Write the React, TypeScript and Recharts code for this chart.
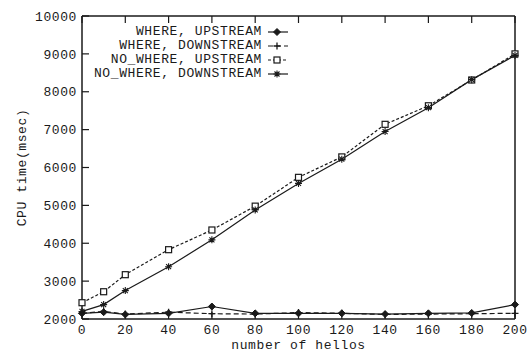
import * as React from "react";
import { LineChart, Line, XAxis, YAxis, Legend } from "recharts";

// CPU time vs. number of hellos, gnuplot-style black & white plot.
const hellos = [0, 10, 20, 40, 60, 80, 100, 120, 140, 160, 180, 200];
const whereUp = [2150, 2180, 2120, 2150, 2330, 2150, 2150, 2150, 2130, 2150, 2160, 2380];
const whereDown = [2150, 2200, 2130, 2180, 2140, 2130, 2170, 2150, 2120, 2130, 2140, 2150];
const noWhereUp = [2430, 2720, 3170, 3830, 4350, 4980, 5740, 6280, 7140, 7630, 8310, 9000];
const noWhereDown = [2200, 2380, 2750, 3380, 4090, 4880, 5580, 6220, 6950, 7580, 8320, 8960];

const xTicks = [0, 20, 40, 60, 80, 100, 120, 140, 160, 180, 200];
const yTicks = [2000, 3000, 4000, 5000, 6000, 7000, 8000, 9000, 10000];

const data = hellos.map((h, i) => ({
  h,
  whereUp: whereUp[i],
  whereDown: whereDown[i],
  noWhereUp: noWhereUp[i],
  noWhereDown: noWhereDown[i],
}));

type Kind = "diamond" | "plus" | "square" | "star";

const series: { key: string; name: string; kind: Kind; dash?: string }[] = [
  { key: "whereUp", name: "WHERE, UPSTREAM", kind: "diamond" },
  { key: "whereDown", name: "WHERE, DOWNSTREAM", kind: "plus", dash: "5 3" },
  { key: "noWhereUp", name: "NO_WHERE, UPSTREAM", kind: "square", dash: "3 2" },
  { key: "noWhereDown", name: "NO_WHERE, DOWNSTREAM", kind: "star" },
];

const INK = "#1a1a1a";
const FONT = "'Liberation Mono', 'DejaVu Sans Mono', monospace";
const FS = 13;
const LS = 0.6;
const TICK = 7;
// frame edges (fixed by the chart margins below)
const PLOT = { left: 82, right: 515, top: 16, bottom: 319 };

function Marker({ kind, cx, cy }: { kind: Kind; cx: number; cy: number }) {
  if (cx == null || cy == null) return null;
  const s = 3.5;
  switch (kind) {
    case "diamond":
      return <polygon points={`${cx},${cy - s} ${cx + s},${cy} ${cx},${cy + s} ${cx - s},${cy}`} fill={INK} stroke={INK} />;
    case "plus":
      return <path d={`M${cx - s} ${cy}h${2 * s}M${cx} ${cy - s}v${2 * s}`} stroke={INK} strokeWidth={1.3} />;
    case "square":
      return <rect x={cx - 3} y={cy - 3} width={6} height={6} fill="#fff" stroke={INK} strokeWidth={1.2} />;
    default:
      return (
        <path
          d={`M${cx - s} ${cy}h${2 * s}M${cx} ${cy - s}v${2 * s}M${cx - 2.5} ${cy - 2.5}l5 5M${cx - 2.5} ${cy + 2.5}l5 -5`}
          stroke={INK}
          strokeWidth={1.1}
        />
      );
  }
}

// inward gnuplot ticks
const BottomTick = (p: any) => (
  <g>
    <line x1={p.x} x2={p.x} y1={PLOT.bottom} y2={PLOT.bottom - TICK} stroke={INK} strokeWidth={1.2} />
    <text x={p.x} y={329} dy="0.36em" textAnchor="middle" fill={INK} fontSize={FS} letterSpacing={LS} fontFamily={FONT}>
      {p.payload.value}
    </text>
  </g>
);
const LeftTick = (p: any) => (
  <g>
    <line x1={PLOT.left} x2={PLOT.left + TICK} y1={p.y} y2={p.y} stroke={INK} strokeWidth={1.2} />
    <text x={77} y={p.y} dy="0.36em" textAnchor="end" fill={INK} fontSize={FS} letterSpacing={LS} fontFamily={FONT}>
      {p.payload.value}
    </text>
  </g>
);
const TopTick = (p: any) => <line x1={p.x} x2={p.x} y1={PLOT.top} y2={PLOT.top + TICK} stroke={INK} strokeWidth={1.2} />;
const RightTick = (p: any) => <line x1={PLOT.right} x2={PLOT.right - TICK} y1={p.y} y2={p.y} stroke={INK} strokeWidth={1.2} />;

function LegendBox() {
  return (
    <div style={{ fontFamily: FONT, fontSize: FS, letterSpacing: LS, color: INK }}>
      {series.map((s) => (
        <div key={s.key} style={{ display: "flex", justifyContent: "flex-end", alignItems: "center", height: 14, lineHeight: "14px" }}>
          <span style={{ whiteSpace: "pre" }}>{s.name}</span>
          <svg width={24} height={14} style={{ marginLeft: 4 }}>
            <line x1={2} x2={22} y1={7} y2={7} stroke={INK} strokeWidth={1.2} strokeDasharray={s.dash} />
            <Marker kind={s.kind} cx={11} cy={7} />
          </svg>
        </div>
      ))}
    </div>
  );
}

export default function App() {
  return (
    <div style={{ position: "fixed", left: 0, top: 0, width: 530, height: 352, background: "#fff" }}>
      <LineChart width={530} height={352} data={data} margin={{ top: 15, right: 14, bottom: 0, left: 0 }}>
        <XAxis
          xAxisId="b"
          dataKey="h"
          type="number"
          domain={[0, 200]}
          ticks={xTicks}
          tick={BottomTick}
          tickLine={false}
          tickSize={0}
          stroke={INK}
          strokeWidth={1.5}
          height={33}
          label={{ value: "number of hellos", position: "insideBottom", offset: 3, fill: INK, fontSize: FS, letterSpacing: LS, fontFamily: FONT }}
        />
        <XAxis
          xAxisId="t"
          orientation="top"
          dataKey="h"
          type="number"
          domain={[0, 200]}
          ticks={xTicks}
          tick={TopTick}
          tickLine={false}
          tickSize={0}
          stroke={INK}
          strokeWidth={1.5}
          height={1}
        />
        <YAxis
          yAxisId="l"
          domain={[2000, 10000]}
          ticks={yTicks}
          tick={LeftTick}
          tickLine={false}
          tickSize={0}
          stroke={INK}
          strokeWidth={1.5}
          width={82}
          label={{ value: "CPU time(msec)", angle: -90, position: "insideLeft", offset: 21, fill: INK, fontSize: FS, letterSpacing: LS, fontFamily: FONT, style: { textAnchor: "middle" } }}
        />
        <YAxis
          yAxisId="r"
          orientation="right"
          domain={[2000, 10000]}
          ticks={yTicks}
          tick={RightTick}
          tickLine={false}
          tickSize={0}
          stroke={INK}
          strokeWidth={1.5}
          width={1}
        />
        <Legend
          layout="vertical"
          align="center"
          verticalAlign="middle"
          content={() => <LegendBox />}
          wrapperStyle={{ position: "absolute", top: 25, left: 80, width: 210 }}
        />
        {series.map((s) => (
          <Line
            key={s.key}
            xAxisId="b"
            yAxisId="l"
            dataKey={s.key}
            name={s.name}
            type="linear"
            stroke={INK}
            strokeWidth={1.2}
            strokeDasharray={s.dash}
            isAnimationActive={false}
            dot={(p: any) => <Marker key={p.index} kind={s.kind} cx={p.cx} cy={p.cy} />}
          />
        ))}
      </LineChart>
    </div>
  );
}
